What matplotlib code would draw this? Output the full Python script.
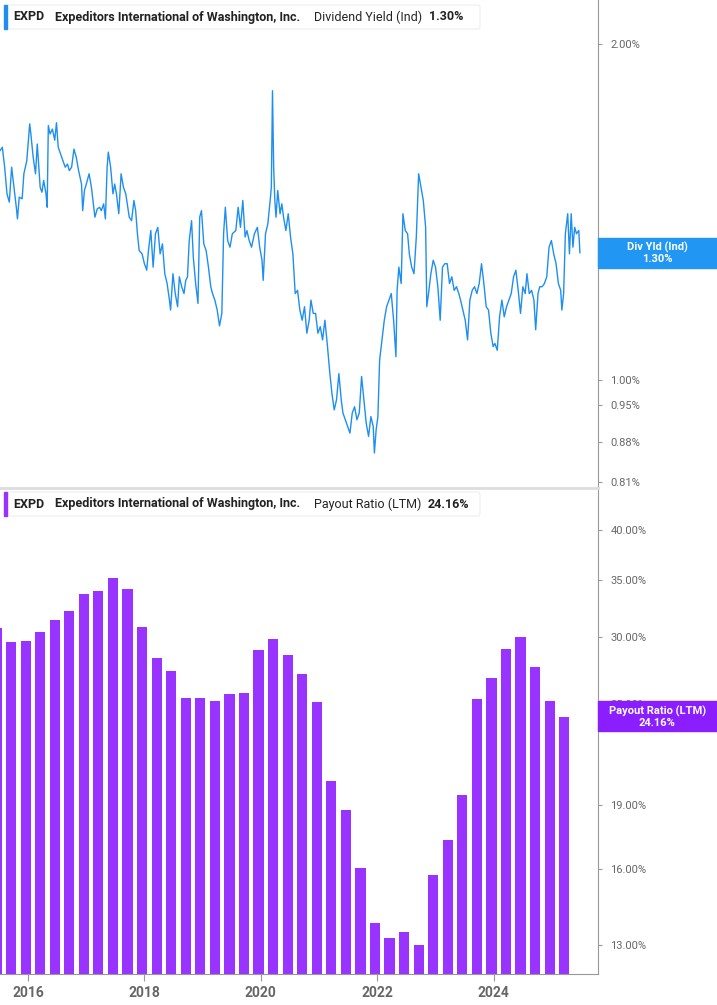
import matplotlib
matplotlib.use("Agg")
import matplotlib.pyplot as plt
from matplotlib.patches import Rectangle, FancyBboxPatch

plt.rcParams["font.family"] = "Roboto"

# dividend yield (%); dates as decimal years
yield_dates = [
    2015.52, 2015.56, 2015.60, 2015.64, 2015.68, 2015.72, 2015.76, 2015.80, 2015.82, 2015.85,
    2015.90, 2015.93, 2015.98, 2016.03, 2016.05, 2016.09, 2016.13, 2016.16, 2016.21, 2016.24,
    2016.27, 2016.31, 2016.33, 2016.35, 2016.38, 2016.42, 2016.46, 2016.49, 2016.52, 2016.56,
    2016.60, 2016.64, 2016.68, 2016.71, 2016.75, 2016.79, 2016.83, 2016.87, 2016.92, 2016.94,
    2016.97, 2017.01, 2017.05, 2017.09, 2017.13, 2017.15, 2017.19, 2017.23, 2017.26, 2017.30,
    2017.33, 2017.36, 2017.38, 2017.42, 2017.46, 2017.49, 2017.52, 2017.56, 2017.60, 2017.64,
    2017.68, 2017.74, 2017.78, 2017.82, 2017.85, 2017.88, 2017.91, 2017.96, 2018.00, 2018.04,
    2018.07, 2018.11, 2018.15, 2018.19, 2018.23, 2018.27, 2018.31, 2018.35, 2018.39, 2018.43,
    2018.45, 2018.49, 2018.53, 2018.57, 2018.60, 2018.64, 2018.68, 2018.71, 2018.74, 2018.77,
    2018.81, 2018.84, 2018.88, 2018.92, 2018.95, 2018.98, 2019.02, 2019.06, 2019.10, 2019.14,
    2019.17, 2019.21, 2019.25, 2019.29, 2019.33, 2019.36, 2019.39, 2019.43, 2019.47, 2019.51,
    2019.57, 2019.61, 2019.65, 2019.69, 2019.73, 2019.76, 2019.80, 2019.84, 2019.89, 2019.94,
    2019.98, 2020.02, 2020.04, 2020.08, 2020.12, 2020.16, 2020.18, 2020.20, 2020.22, 2020.24,
    2020.26, 2020.29, 2020.33, 2020.36, 2020.39, 2020.43, 2020.47, 2020.51, 2020.55, 2020.59,
    2020.63, 2020.67, 2020.71, 2020.75, 2020.79, 2020.83, 2020.86, 2020.90, 2020.94, 2020.98,
    2021.02, 2021.06, 2021.10, 2021.14, 2021.18, 2021.22, 2021.26, 2021.30, 2021.34, 2021.38,
    2021.41, 2021.45, 2021.49, 2021.53, 2021.57, 2021.61, 2021.65, 2021.69, 2021.73, 2021.77,
    2021.81, 2021.85, 2021.89, 2021.93, 2021.95, 2021.98, 2022.01, 2022.04, 2022.08, 2022.12,
    2022.16, 2022.20, 2022.24, 2022.28, 2022.32, 2022.34, 2022.37, 2022.41, 2022.44, 2022.48,
    2022.52, 2022.55, 2022.59, 2022.63, 2022.67, 2022.71, 2022.75, 2022.79, 2022.83, 2022.85,
    2022.88, 2022.92, 2022.96, 2023.00, 2023.04, 2023.08, 2023.12, 2023.16, 2023.20, 2023.24,
    2023.28, 2023.32, 2023.36, 2023.40, 2023.43, 2023.47, 2023.51, 2023.55, 2023.59, 2023.63,
    2023.67, 2023.71, 2023.75, 2023.79, 2023.83, 2023.87, 2023.91, 2023.95, 2023.99, 2024.02,
    2024.06, 2024.10, 2024.14, 2024.18, 2024.22, 2024.26, 2024.30, 2024.34, 2024.38, 2024.42,
    2024.46, 2024.50, 2024.54, 2024.57, 2024.61, 2024.65, 2024.69, 2024.72, 2024.76, 2024.79,
    2024.83, 2024.87, 2024.91, 2024.95, 2024.99, 2025.03, 2025.07, 2025.11, 2025.15, 2025.17,
    2025.20, 2025.23, 2025.27, 2025.30, 2025.33, 2025.36, 2025.39, 2025.42, 2025.46, 2025.48,
]
yield_values = [
    1.605, 1.616, 1.551, 1.468, 1.443, 1.551, 1.488, 1.428, 1.394, 1.458,
    1.453, 1.530, 1.572, 1.696, 1.661, 1.583, 1.530, 1.627, 1.488, 1.473,
    1.509, 1.468, 1.428, 1.690, 1.661, 1.678, 1.640, 1.700, 1.616, 1.594,
    1.572, 1.551, 1.561, 1.540, 1.551, 1.610, 1.583, 1.540, 1.498, 1.418,
    1.478, 1.503, 1.530, 1.488, 1.428, 1.399, 1.423, 1.428, 1.418, 1.438,
    1.394, 1.551, 1.600, 1.551, 1.468, 1.498, 1.468, 1.409, 1.530, 1.488,
    1.468, 1.399, 1.389, 1.448, 1.418, 1.352, 1.306, 1.297, 1.271, 1.254,
    1.306, 1.361, 1.262, 1.352, 1.370, 1.297, 1.324, 1.245, 1.220, 1.179,
    1.155, 1.245, 1.195, 1.163, 1.237, 1.212, 1.195, 1.228, 1.237, 1.333,
    1.389, 1.288, 1.220, 1.171, 1.399, 1.418, 1.324, 1.306, 1.262, 1.212,
    1.195, 1.179, 1.155, 1.118, 1.147, 1.352, 1.428, 1.333, 1.315, 1.352,
    1.361, 1.428, 1.370, 1.448, 1.343, 1.361, 1.333, 1.315, 1.352, 1.370,
    1.315, 1.280, 1.228, 1.352, 1.380, 1.448, 1.488, 1.816, 1.551, 1.448,
    1.399, 1.478, 1.409, 1.438, 1.399, 1.361, 1.409, 1.343, 1.297, 1.195,
    1.203, 1.155, 1.131, 1.163, 1.101, 1.131, 1.179, 1.147, 1.147, 1.101,
    1.116, 1.086, 1.131, 1.078, 1.020, 0.973, 0.940, 0.960, 1.013, 0.960,
    0.934, 0.921, 0.908, 0.896, 0.934, 0.946, 0.921, 0.934, 1.007, 0.960,
    0.914, 0.890, 0.927, 0.908, 0.860, 0.902, 0.927, 1.042, 1.086, 1.131,
    1.163, 1.179, 1.195, 1.131, 1.049, 1.203, 1.262, 1.220, 1.409, 1.361,
    1.352, 1.297, 1.262, 1.245, 1.343, 1.530, 1.488, 1.448, 1.370, 1.163,
    1.195, 1.245, 1.280, 1.262, 1.212, 1.131, 1.262, 1.271, 1.271, 1.220,
    1.237, 1.203, 1.212, 1.195, 1.179, 1.155, 1.131, 1.086, 1.179, 1.203,
    1.212, 1.195, 1.220, 1.271, 1.220, 1.163, 1.155, 1.101, 1.071, 1.078,
    1.063, 1.139, 1.179, 1.139, 1.163, 1.179, 1.195, 1.237, 1.254, 1.203,
    1.147, 1.212, 1.195, 1.245, 1.195, 1.203, 1.179, 1.109, 1.195, 1.212,
    1.212, 1.220, 1.237, 1.315, 1.333, 1.297, 1.271, 1.220, 1.203, 1.155,
    1.195, 1.352, 1.409, 1.297, 1.409, 1.315, 1.370, 1.352, 1.361, 1.300,
]

# payout ratio (LTM, %), quarterly, 2015 Q2 .. 2025 Q1
quarters = [2015.46 + 0.25 * i for i in range(40)]
payout = [
    30.67, 29.53, 29.66, 30.34, 31.40, 32.18, 33.69, 33.94, 35.18, 34.15,
    30.76, 28.28, 27.32, 25.40, 25.37, 25.19, 25.65, 25.74, 28.90, 29.77,
    28.53, 27.12, 25.12, 20.30, 18.78, 16.05, 13.81, 13.26, 13.48, 13.00,
    15.73, 17.27, 19.52, 25.35, 26.83, 29.03, 29.99, 27.60, 25.19, 24.14,
]

yield_ticks = [0.81, 0.88, 0.95, 1.00, 2.00]
payout_ticks = [13, 16, 19, 25, 30, 35, 40]
year_ticks = [2016, 2018, 2020, 2022, 2024]

blue = "#1E8FF0"
purple = "#9933FF"
grey = "#666666"

fig = plt.figure(figsize=(7.17, 10.05), dpi=100)
ax1 = fig.add_axes([0, 0.5144, 0.834, 0.4856])
ax2 = fig.add_axes([0, 0.0308, 0.834, 0.4816])

for ax in (ax1, ax2):
    ax.set_xlim(2015.52, 2025.79)
    ax.set_yscale("log")
    ax.yaxis.tick_right()
    ax.minorticks_off()
    for s in ("top", "left"):
        ax.spines[s].set_visible(False)
    ax.spines["right"].set_color("#999999")
    ax.spines["bottom"].set_color("#bbbbbb")
    ax.tick_params(axis="y", length=3, color="#999999", labelcolor=grey, labelsize=8, pad=6)
    ax.set_xticks(year_ticks)

ax1.plot(yield_dates, yield_values, color=blue, lw=1.0)
ax1.set_ylim(0.80, 2.19)
ax1.set_yticks(yield_ticks)
ax1.set_yticklabels([f"{v:.2f}%" for v in yield_ticks])
ax1.tick_params(axis="x", length=0, labelbottom=False)

ax2.bar(quarters, payout, width=0.175, color=purple)
ax2.set_ylim(12.03, 44.6)
ax2.set_yticks(payout_ticks)
ax2.set_yticklabels([f"{v:.2f}%" for v in payout_ticks])
ax2.tick_params(axis="x", length=5, color="#999999", labelcolor=grey, labelsize=10)
for lab in ax2.get_xticklabels():
    lab.set_fontweight("bold")
ax2.spines["bottom"].set_color("#999999")

# header boxes
def header(y_top, color, metric, value):
    y0 = 1 - y_top / 1005
    fig.patches.append(FancyBboxPatch((6 / 717, y0 - 24 / 1005), 474 / 717, 24 / 1005,
                                      boxstyle="round,pad=0,rounding_size=0.003",
                                      transform=fig.transFigure, facecolor="white",
                                      edgecolor="#eeeeee", lw=0.8, zorder=5))
    fig.patches.append(Rectangle((4 / 717, y0 - 24 / 1005), 3 / 717, 24 / 1005,
                                 transform=fig.transFigure, color=color, zorder=6))
    yt = y0 - 12 / 1005
    kw = dict(va="center", fontsize=9, color="#222222", zorder=7)
    fig.text(13 / 717, yt, "EXPD", fontweight="bold", **kw)
    fig.text(55 / 717, yt, "Expeditors International of Washington, Inc.", fontweight="bold", **kw)
    fig.text(314 / 717, yt, metric, **kw)
    fig.text(0.598 if value == "1.30%" else 0.596, yt, value, fontweight="bold", **kw)

header(5, blue, "Dividend Yield (Ind)", "1.30%")
header(492, purple, "Payout Ratio (LTM)", "24.16%")

# separator between panels
fig.add_artist(plt.Line2D([0, 0.834], [1 - 488 / 1005] * 2, color="#dddddd", lw=2))

# value flags on the right
fig.canvas.draw()
def flag(ax, value, color, text):
    yd = ax.transData.transform((2020, value))[1] / fig.bbox.height
    h = 30 / 1005
    fig.patches.append(Rectangle((0.834, yd - h / 2), 0.166, h, transform=fig.transFigure,
                                 color=color, zorder=8))
    fig.text(0.917, yd, text, ha="center", va="center", color="white",
             fontsize=8, fontweight="bold", zorder=9, linespacing=1.1)

flag(ax1, 1.30, "#2196F3", "Div Yld (Ind)\n1.30%")
flag(ax2, 24.16, "#8A1EFF", "Payout Ratio (LTM)\n24.16%")

fig.savefig("out.png", dpi=100)
